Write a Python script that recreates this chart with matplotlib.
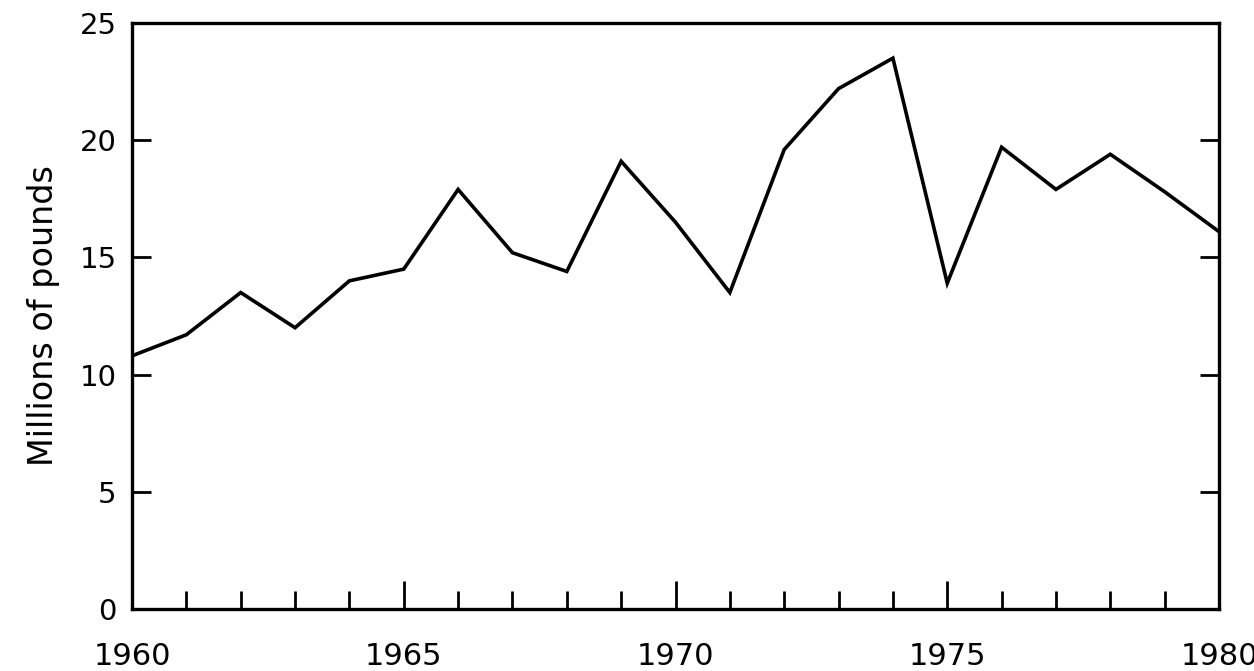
import matplotlib
matplotlib.use("Agg")
import matplotlib.pyplot as plt
from matplotlib.ticker import MultipleLocator, FixedLocator

years = list(range(1960, 1981))
values = [10.8, 11.7, 13.5, 12.0, 14.0, 14.5, 17.9, 15.2, 14.4, 19.1,
          16.5, 13.5, 19.6, 22.2, 23.5, 13.9, 19.7, 17.9, 19.4, 17.8, 16.1]
x_labels = [1960, 1965, 1970, 1975, 1980]
y_ticks = [0, 5, 10, 15, 20, 25]

plt.rcParams['font.family'] = ['DejaVu Sans']
fig = plt.figure(figsize=(12.54, 6.71), dpi=100)
ax = fig.add_axes([132/1254, 62/671, (1219-132)/1254, (609-23)/671])

ax.plot(years, values, color='black', lw=2.6, solid_joinstyle='miter')

ax.set_xlim(1960, 1980)
ax.set_ylim(0, 25)
ax.set_yticks(y_ticks)
ax.xaxis.set_major_locator(FixedLocator(x_labels))
ax.xaxis.set_minor_locator(MultipleLocator(1))
ax.set_xticklabels([str(v) for v in x_labels])

for s in ax.spines.values():
    s.set_linewidth(2.4)

ax.tick_params(axis='y', direction='in', length=14, width=2.0, labelsize=21,
               right=True, pad=11)
ax.tick_params(axis='x', which='major', direction='in', length=20, width=2.0,
               labelsize=22, pad=24)
ax.tick_params(axis='x', which='minor', direction='in', length=13, width=2.0)

ax.set_ylabel('Millions of pounds', fontsize=24, labelpad=14)

fig.savefig('out.png', dpi=100)
